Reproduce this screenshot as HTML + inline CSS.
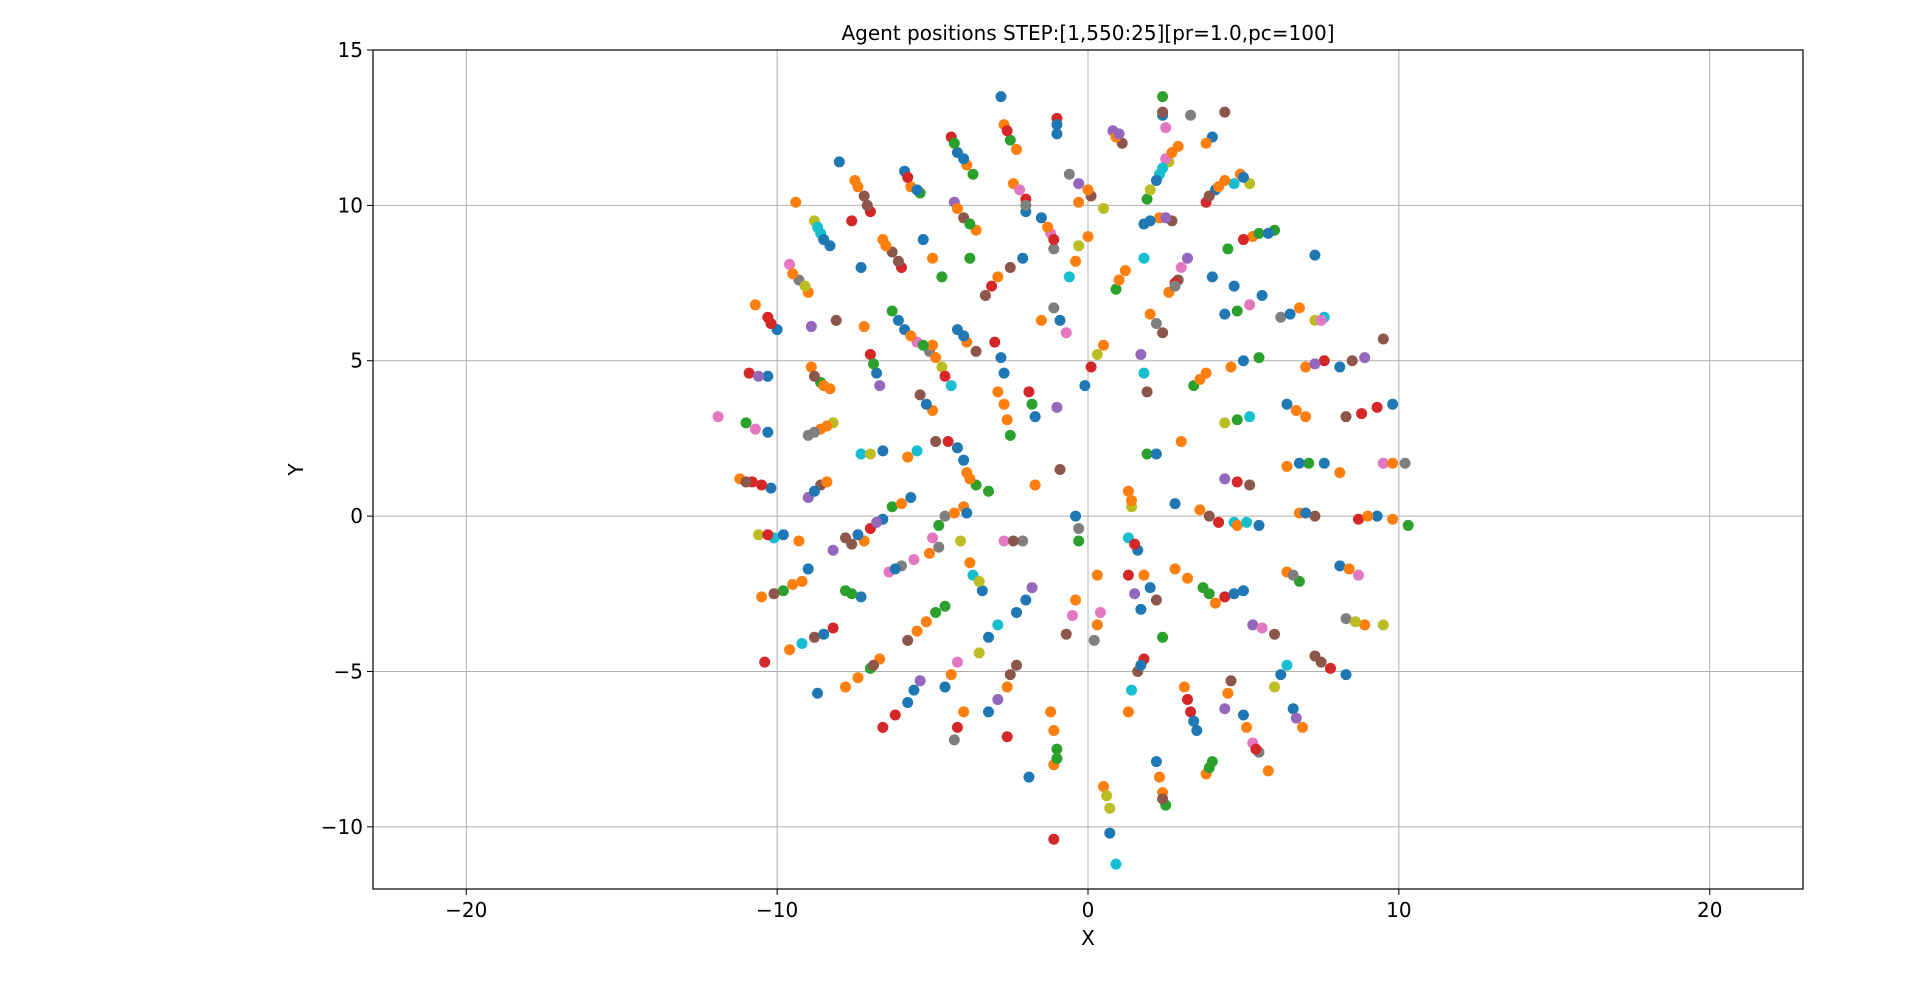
<!DOCTYPE html>
<html><head><meta charset="utf-8"><style>
html,body{margin:0;padding:0;background:#fff;}
svg{display:block;font-family:"DejaVu Sans","Liberation Sans",sans-serif;}
</style></head><body>
<svg id="chart" width="1920" height="983" xmlns="http://www.w3.org/2000/svg"></svg>
<script>
const xTicks=[-20,-10,0,10,20];
const yTicks=[-10,-5,0,5,10,15];
const xTickLabels=["−20","−10","0","10","20"];
const yTickLabels=["−10","−5","0","5","10","15"];
const palette=["#1f77b4","#ff7f0e","#2ca02c","#d62728","#9467bd","#8c564b","#e377c2","#7f7f7f","#bcbd22","#17becf"];
const colorOrder=[0,1,2,1,3,0,4,5,1,2,0,6,7,1,8,9,0,1,5,3];
const xs=[-2.8,-2.7,-2.5,-2.3,-1.0,-1.0,0.8,1.1,0.9,2.4,2.4,2.5,3.3,2.9,2.6,2.3,4.0,3.8,4.4,-4.4,-4.2,-3.9,-3.7,-2.4,-2.0,-2.0,-0.3,0.1,-0.3,1.9,2.2,2.5,-0.6,4.9,5.2,4.7,-8.0,-7.5,-7.2,-7.0,-5.9,-5.7,-5.4,-9.4,-7.6,-5.3,-4.3,-4.0,-3.6,-3.8,-1.5,-1.2,-1.1,0,0.5,1.8,1.8,2.3,2.7,3.8,4.1,4.4,6.0,5.3,5.0,7.3,3.2,2.9,2.6,4.5,4.7,
-9.6,-9.3,-9.0,-8.8,-8.6,-8.3,-6.6,-6.3,-6.0,-7.3,-5.0,-4.7,-10.7,-10.3,-10.0,-8.9,-8.1,-7.2,-6.3,-5.9,-5.5,-5.1,-5.0,-4.7,-4.4,-4.2,-3.9,-3.6,-10.9,-10.3,-8.9,-8.6,-8.3,-7.0,-6.8,-6.7,-5.4,-5.0,-11.0,-10.3,-11.9,-9.0,-8.6,-8.2,-7.3,-6.6,-5.8,-4.9,-4.5,-4.2,-3.9,-3.6,-11.2,-10.8,-10.2,-9.0,-8.6,-8.4,-6.3,-5.7,-5.0,-4.6,-4.0,-10.6,-10.1,-9.8,-9.3,-7.8,-7.0,-6.6,-10.5,-9.8,-9.2,-10.4,-9.0,-8.2,-7.6,-7.2,-7.8,-7.3,-6.4,-6.0,-5.1,-4.1,-3.7,-3.4,-9.6,-8.8,-8.2,-8.7,-7.8,-7.0,-6.7,-6.6,-5.8,-5.4,-5.8,-5.2,-4.6,-4.6,-4.2,-4.3,-4.0,-3.5,-2.9,-3.2,-2.6,-2.3,-2.6,-1.9,-1.2,-1.0,-1.1,-1.1,-2.3,-1.8,-0.7,-0.4,-0.3,-0.4,0.4,0.2,0.5,0.7,0.9,0.7,1.3,1.6,1.8,2.2,2.4,2.5,3.1,3.3,3.5,4.4,4.6,3.8,4.0,5.0,5.3,5.5,5.8,6.0,6.4,6.6,6.9,7.3,7.8,8.3,
2.8,3.7,4.1,4.4,5.0,5.3,6.0,6.4,6.8,8.1,8.7,8.3,8.9,9.5,4.7,5.5,6.8,7.3,8.7,9.3,9.8,10.3,3.6,4.2,2.8,4.4,5.2,6.4,7.1,7.6,9.5,10.2,8.1,4.4,5.2,6.4,7.0,8.3,9.3,9.8,4.6,5.5,7.0,7.6,8.1,8.9,9.5,3.8,3.4,4.4,5.2,6.2,6.8,7.3,7.6,5.6,2.0,2.4,2.8,4.0,1.2,0.9,0.5,0.1,-0.1,1.7,1.9,3.0,1.9,2.2,-0.7,-1.1,-1.5,-0.3,-0.6,-2.1,-2.9,-3.3,-3.0,-2.7,-2.7,-2.5,-2.9,-1.9,-1.7,-1.0,-0.9,-1.7,-3.2,-3.9,-2.7,-2.1,1.3,1.4,1.3,1.6,1.8,2.2,1.3,1.7,0.3,2.4,4.8,
-2.6,-1.0,1.0,2.4,2.7,-4.3,-4.0,-2.2,-2.0,0,2.0,2.4,5.0,-7.4,-7.1,-5.8,-5.5,-4.2,-3.8,-1.3,-1.1,2.0,2.5,3.9,4.2,5.5,5.8,3.0,2.8,
-9.5,-9.1,-8.7,-8.5,-6.5,-6.1,-10.2,-6.1,-5.7,-5.3,-4.9,-4.6,-4.0,-10.6,-8.8,-8.5,-6.9,-5.2,-10.7,-8.8,-8.4,-7.0,-5.5,-4.0,-3.8,-11.0,-10.5,-8.8,-6.0,-4.8,-4.3,-10.3,-7.4,-6.8,-10.1,-9.5,-7.6,-6.2,-5.6,-4.8,-3.8,-3.5,-9.2,-8.5,-7.4,-6.9,-6.2,-5.6,-5.5,-4.9,-4.4,-4.2,-3.2,-2.9,-2.5,-1.1,-1.0,-2.0,-0.5,-0.3,0.3,0.6,1.4,1.7,2.3,2.4,3.2,3.4,4.5,3.9,5.1,5.4,6.2,6.7,7.5,
3.2,3.9,4.7,5.6,6.6,8.4,8.6,5.1,7.0,9.0,3.9,4.8,6.8,9.8,4.8,6.7,8.8,5.0,7.3,8.5,3.6,4.8,6.5,7.5,2.2,1.0,0.3,1.8,-0.9,-0.4,-2.5,-3.1,-2.8,-2.6,-1.8,1.4,1.5,2.0,1.5,-2.4];
const ys=[13.5,12.6,12.1,11.8,12.8,12.3,12.4,12.0,12.2,13.5,12.9,12.5,12.9,11.9,11.4,11.0,12.2,12.0,13.0,12.2,11.7,11.3,11.0,10.7,10.2,9.8,10.7,10.3,10.1,10.2,10.8,11.5,11.0,11.0,10.7,10.7,11.4,10.8,10.3,9.8,11.1,10.6,10.4,10.1,9.5,8.9,10.1,9.6,9.2,8.3,9.6,9.1,8.6,9.0,9.9,8.3,9.4,9.6,9.5,10.1,10.5,10.8,9.2,9.0,8.9,8.4,8.3,7.6,7.2,8.6,7.4,
8.1,7.6,7.2,9.5,9.1,8.7,8.9,8.5,8.0,8.0,8.3,7.7,6.8,6.4,6.0,6.1,6.3,6.1,6.6,6.0,5.6,5.3,5.5,4.8,4.2,6.0,5.6,5.3,4.6,4.5,4.8,4.3,4.1,5.2,4.6,4.2,3.9,3.4,3.0,2.7,3.2,2.6,2.8,3.0,2.0,2.1,1.9,2.4,2.4,2.2,1.4,1.0,1.2,1.1,0.9,0.6,1.0,1.1,0.3,0.6,-0.7,0,0.3,-0.6,-0.7,-0.6,-0.8,-0.7,-0.4,-0.1,-2.6,-2.4,-2.1,-4.7,-1.7,-1.1,-0.9,-0.8,-2.4,-2.6,-1.8,-1.6,-1.2,-0.8,-1.9,-2.4,-4.3,-3.9,-3.6,-5.7,-5.5,-4.9,-4.6,-6.8,-6.0,-5.3,-4.0,-3.4,-2.9,-5.5,-4.7,-7.2,-6.3,-4.4,-3.5,-6.3,-5.5,-4.8,-7.1,-8.4,-6.3,-7.5,-8.0,-10.4,-3.1,-2.3,-3.8,-2.7,-0.8,0.0,-3.1,-4.0,-8.7,-9.4,-11.2,-10.2,-6.3,-5.0,-4.6,-7.9,-8.9,-9.3,-5.5,-6.3,-6.9,-6.2,-5.3,-8.3,-7.9,-6.4,-7.3,-7.6,-8.2,-5.5,-4.8,-6.2,-6.8,-4.5,-4.9,-5.1,
-1.7,-2.3,-2.8,-2.6,-2.4,-3.5,-3.8,-1.8,-2.1,-1.6,-1.9,-3.3,-3.5,-3.5,-0.2,-0.3,0.1,0.0,-0.1,0.0,-0.1,-0.3,0.2,-0.2,0.4,1.2,1.0,1.6,1.7,1.7,1.7,1.7,1.4,3.0,3.2,3.6,3.2,3.2,3.5,3.6,4.8,5.1,4.8,5.0,4.8,5.1,5.7,4.6,4.2,6.5,6.8,6.4,6.7,6.3,6.4,7.1,6.5,5.9,7.5,7.7,7.9,7.3,5.5,4.8,4.2,5.2,4.0,2.4,2.0,2.0,5.9,6.7,6.3,8.7,7.7,8.3,7.7,7.1,5.6,4.6,3.6,2.6,4.0,4.0,3.2,3.5,1.5,1.0,0.8,0.1,-0.8,-0.8,0.8,0.3,-0.7,-1.1,-1.9,-2.7,-1.9,-3.0,-1.9,-3.9,-0.3,
12.4,12.6,12.3,13.0,11.7,12.0,11.5,10.5,10.0,10.5,10.5,11.2,10.9,10.6,10.0,10.9,10.5,9.9,9.4,9.3,8.9,9.5,9.6,10.3,10.6,9.1,9.1,8.0,7.4,
7.8,7.4,9.3,8.9,8.7,8.2,6.2,6.3,5.8,5.5,5.1,4.5,5.8,4.5,4.5,4.2,4.9,3.6,2.8,2.7,2.9,2.0,2.1,1.8,1.2,1.1,1.0,0.8,0.4,-0.3,0.1,-0.6,-0.6,-0.2,-2.5,-2.2,-2.5,-1.7,-1.4,-1.0,-1.5,-2.1,-4.1,-3.8,-5.2,-4.8,-6.4,-5.6,-3.7,-3.1,-5.1,-6.8,-3.9,-5.9,-5.1,-6.9,-7.8,-2.7,-3.2,-0.4,-3.5,-9.0,-5.6,-4.8,-8.4,-9.1,-5.9,-6.6,-5.7,-8.1,-6.8,-7.5,-5.1,-6.5,-4.7,
-2.0,-2.5,-2.5,-3.6,-1.9,-1.7,-3.4,-0.2,0.1,0.0,0.0,1.1,1.7,1.7,3.1,3.4,3.3,5.0,4.9,5.0,4.4,6.6,6.5,6.3,6.2,7.6,5.2,4.6,6.3,8.2,8.0,7.4,5.1,3.1,3.6,0.5,-0.9,-2.3,-2.5,-0.8];
const L=373,R=1803,T=50,B=889,XMIN=-23,XMAX=23,YMIN=-12,YMAX=15;
const sx=v=>L+(v-XMIN)/(XMAX-XMIN)*(R-L);
const sy=v=>B-(v-YMIN)/(YMAX-YMIN)*(B-T);
const NS="http://www.w3.org/2000/svg";
const svg=document.getElementById('chart');
function mk(tag,attrs,parent){const e=document.createElementNS(NS,tag);for(const k in attrs)e.setAttribute(k,attrs[k]);(parent||svg).appendChild(e);return e;}
const grid=mk('g',{});


xTicks.forEach((t,i)=>{
  const g=mk('line',{x1:sx(t),x2:sx(t),y1:T,y2:B,stroke:'#b0b0b0','stroke-width':1},grid);
  
  
  const tk=mk('line',{x1:sx(t),x2:sx(t),y1:B,y2:B+6,stroke:'#000','stroke-width':1});
  
  
  const lb=mk('text',{x:sx(t),y:B+28,'text-anchor':'middle','font-size':20,fill:'#000'});
  lb.textContent=xTickLabels[i];
  
  
});
yTicks.forEach((t,i)=>{
  const g=mk('line',{x1:L,x2:R,y1:sy(t),y2:sy(t),stroke:'#b0b0b0','stroke-width':1},grid);
  
  
  const tk=mk('line',{x1:L-6,x2:L,y1:sy(t),y2:sy(t),stroke:'#000','stroke-width':1});
  
  
  const lb=mk('text',{x:L-10,y:sy(t)+7,'text-anchor':'end','font-size':20,fill:'#000'});
  lb.textContent=yTickLabels[i];
  
  
});
const pts=mk('g',{});


for(let i=0;i<xs.length&&i<ys.length;i++){
  const c=mk('circle',{cx:sx(xs[i]),cy:sy(ys[i]),r:5.5,fill:palette[colorOrder[i%colorOrder.length]]},pts);
  
  
}
const frame=mk('rect',{x:L,y:T,width:R-L,height:B-T,fill:'none',stroke:'#000','stroke-width':1.2});


const title=mk('text',{x:(L+R)/2,y:40,'text-anchor':'middle','font-size':20,fill:'#000'});
title.textContent='Agent positions STEP:[1,550:25][pr=1.0,pc=100]';


const xl=mk('text',{x:(L+R)/2,y:945,'text-anchor':'middle','font-size':20,fill:'#000'});
xl.textContent='X';


const yl=mk('text',{x:303,y:(T+B)/2,'text-anchor':'middle','font-size':20,fill:'#000',transform:`rotate(-90 303 ${(T+B)/2})`});
yl.textContent='Y';


</script>
</body></html>
